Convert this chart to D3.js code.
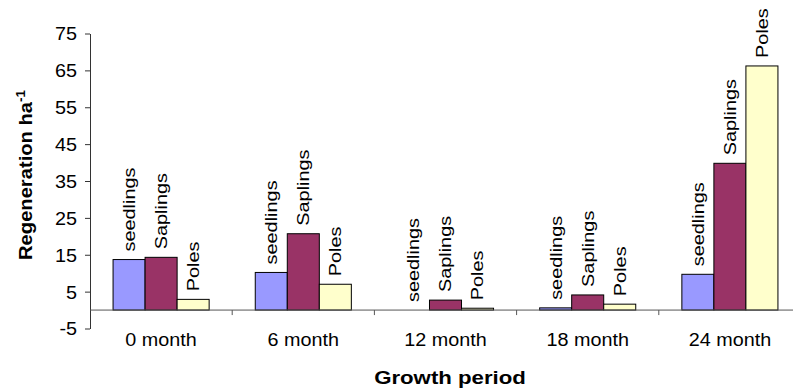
<!DOCTYPE html>
<html>
<head>
<meta charset="utf-8">
<script src="https://cdn.jsdelivr.net/npm/d3@7"></script>
<style>
  html, body { margin: 0; padding: 0; background: #fff; }
  svg { display: block; }
  text { font-family: "Liberation Sans", Arial, sans-serif; fill: #000; }
</style>
</head>
<body>
<svg id="chart" width="793" height="391"></svg>
<script>
// Regeneration per hectare by growth period and size class
const periods = ["0 month", "6 month", "12 month", "18 month", "24 month"];
const seriesNames = ["seedlings", "Saplings", "Poles"];
const seedlings = [13.7, 10.2, 0, 0.6, 9.7];
const saplings = [14.3, 20.7, 2.7, 4.1, 39.8];
const poles = [2.9, 7.0, 0.5, 1.6, 66.2];
const yTicks = [-5, 5, 15, 25, 35, 45, 55, 65, 75];
const colors = ["#9999FF", "#993366", "#FFFFCC"];

const values = [seedlings, saplings, poles];

const svg = d3.select("#chart");
const plotLeft = 90, plotRight = 801, plotTop = 33.5, plotBottom = 328.5;

const x = d3.scaleBand().domain(periods).range([plotLeft, plotRight]).paddingInner(0).paddingOuter(0);
const xs = d3.scaleBand().domain(seriesNames).range([0, x.bandwidth()]).paddingInner(0).paddingOuter(0.72);
const y = d3.scaleLinear().domain([-5, 75]).range([plotBottom, plotTop]);

// bars
const groups = svg.append("g").selectAll("g")
  .data(periods)
  .join("g")
  .attr("transform", d => `translate(${x(d)},0)`);

groups.selectAll("rect")
  .data((p, i) => seriesNames.map((s, j) => ({ s, j, v: values[j][i] })))
  .join("rect")
  .attr("x", d => xs(d.s))
  .attr("width", xs.bandwidth())
  .attr("y", d => y(Math.max(0, d.v)))
  .attr("height", d => Math.abs(y(d.v) - y(0)))
  .attr("fill", d => colors[d.j])
  .attr("stroke", "#000")
  .attr("stroke-width", 1);

// rotated size-class labels above each bar
const stretch = 1.17;
groups.selectAll("text.lbl")
  .data((p, i) => seriesNames.map((s, j) => ({ s, j, v: values[j][i] })))
  .join("text")
  .attr("class", "lbl")
  .attr("transform", d => `translate(${xs(d.s) + xs.bandwidth() / 2},${y(Math.max(0, d.v)) - 8}) rotate(-90) scale(${stretch},1)`)
  .attr("dy", "0.35em")
  .attr("text-anchor", "start")
  .style("font-size", "17px")
  .text(d => d.s);

// y axis
const yAxis = d3.axisLeft(y).tickValues(yTicks).tickSize(5).tickSizeOuter(0).tickFormat(d3.format("d"));
const gy = svg.append("g").attr("transform", `translate(${plotLeft},0)`).call(yAxis);
gy.select(".domain").attr("stroke", "#333");
gy.selectAll(".tick line").attr("stroke", "#333");
gy.selectAll(".tick text").remove();
gy.selectAll(".tick").append("text")
  .attr("transform", `translate(-13,0) scale(1.1,1)`)
  .attr("dy", "0.36em")
  .attr("text-anchor", "end")
  .style("font-size", "18px")
  .text(d => d);

// category axis along zero
const gx = svg.append("g");
gx.append("line")
  .attr("x1", plotLeft).attr("x2", plotRight)
  .attr("y1", y(0)).attr("y2", y(0))
  .attr("stroke", "#555");
gx.selectAll("line.sep")
  .data(periods.slice(1))
  .join("line")
  .attr("class", "sep")
  .attr("x1", d => x(d)).attr("x2", d => x(d))
  .attr("y1", y(0)).attr("y2", y(0) + 5)
  .attr("stroke", "#555");
gx.selectAll("text")
  .data(periods)
  .join("text")
  .attr("transform", d => `translate(${x(d) + x.bandwidth() / 2},345.5) scale(1.07,1)`)
  .attr("text-anchor", "middle")
  .style("font-size", "18.5px")
  .text(d => d);

// axis titles
svg.append("text")
  .attr("transform", `translate(450,384) scale(1.17,1)`)
  .attr("text-anchor", "middle")
  .style("font-size", "19px")
  .style("font-weight", "bold")
  .text("Growth period");

const yt = svg.append("text")
  .attr("transform", `translate(32,175) rotate(-90) scale(1.12,1)`)
  .attr("text-anchor", "middle")
  .style("font-size", "18px")
  .style("font-weight", "bold");
yt.append("tspan").text("Regeneration ha");
yt.append("tspan").attr("dy", "-0.55em").style("font-size", "12px").text("-1");
</script>
</body>
</html>
